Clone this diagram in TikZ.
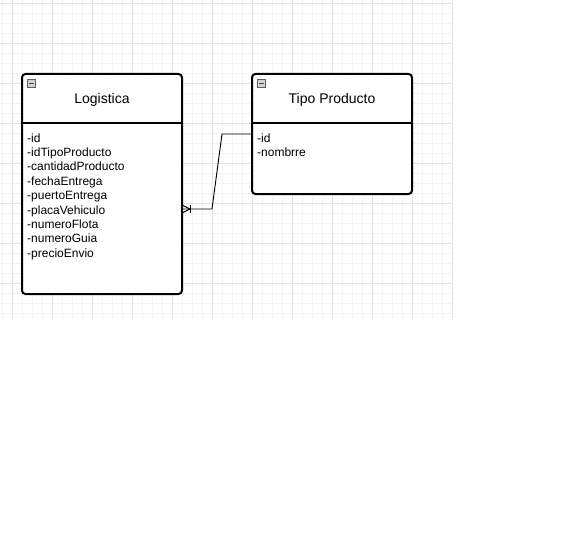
\documentclass[tikz,border=0pt]{standalone}
\usepackage{fontspec}
\setmainfont{Liberation Sans}
\tikzset{
    minor-grid/.style = {draw=gray!9, line width=0.8pt},
    major-grid/.style = {draw=gray!22, line width=0.8pt},
    entity-box/.style = {draw=black, fill=white, line width=2pt, rectangle, rounded corners=3.5pt, anchor=north west, inner sep=0pt, outer sep=0pt},
    entity-line/.style = {draw=black, line width=2pt},
    entity-title/.style = {anchor=base, inner sep=0pt, font=\fontsize{14}{16.8}\selectfont},
    entity-attrs/.style = {anchor=north west, align=left, inner sep=0pt, font=\fontsize{12}{14.4}\selectfont},
    collapse-icon/.style = {draw=gray!75!black, fill=gray!35, line width=0.6pt, minimum size=8pt, inner sep=0pt, anchor=north west},
    relation/.style = {draw=black, line width=0.9pt},
}
\begin{document}
\begin{tikzpicture}[x=1pt, y=-1pt]
\useasboundingbox (0,0) rectangle (562,559);
\fill[white] (0,0) rectangle (562,559);
% grid
\foreach \x in {2.5,12.5,...,452.5} \draw[minor-grid] (\x,0) -- (\x,318);
\foreach \y in {3.5,13.5,...,313.5} \draw[minor-grid] (0,\y) -- (453,\y);
\foreach \x in {12.5,52.5,...,452.5} \draw[major-grid] (\x,0) -- (\x,318);
\foreach \y in {3.5,43.5,...,283.5} \draw[major-grid] (0,\y) -- (453,\y);

% Logistica
\node[entity-box, minimum width=160pt, minimum height=220pt] (logistica) at (22,74) {};
\draw[entity-line] ([yshift=-49.5pt]logistica.north west) -- ([yshift=-49.5pt]logistica.north east);
\node[collapse-icon] (logistica-icon) at ([xshift=5pt,yshift=-5pt]logistica.north west) {};
\draw[black!70, line width=0.8pt] ([xshift=2pt]logistica-icon.west) -- ([xshift=-2pt]logistica-icon.east);
\node[entity-title] (logistica-title) at ([yshift=-29.5pt]logistica.north) {Logistica};
\node[entity-attrs] (logistica-attrs) at ([xshift=5pt,yshift=-59.3pt]logistica.north west) {-id\\-idTipoProducto\\-cantidadProducto\\-fechaEntrega\\-puertoEntrega\\-placaVehiculo\\-numeroFlota\\-numeroGuia\\-precioEnvio};

% Tipo Producto
\node[entity-box, minimum width=160pt, minimum height=120pt] (tipo) at (252,74) {};
\draw[entity-line] ([yshift=-49.5pt]tipo.north west) -- ([yshift=-49.5pt]tipo.north east);
\node[collapse-icon] (tipo-icon) at ([xshift=5pt,yshift=-5pt]tipo.north west) {};
\draw[black!70, line width=0.8pt] ([xshift=2pt]tipo-icon.west) -- ([xshift=-2pt]tipo-icon.east);
\node[entity-title] (tipo-title) at ([yshift=-29.5pt]tipo.north) {Tipo Producto};
\node[entity-attrs] (tipo-attrs) at ([xshift=5pt,yshift=-59.3pt]tipo.north west) {-id\\-nombrre};

% relation
\path (logistica.north east) ++(0,135) coordinate (many-end);
\path (tipo.north west) ++(0,60) coordinate (one-end);
\draw[relation] (many-end) -- ++(30,0) -- ([xshift=-30pt]one-end) -- (one-end);
\draw[relation] ([yshift=4pt]many-end) -- ++(8,4) -- ([yshift=-4pt]many-end);
\draw[relation] ([xshift=8pt,yshift=4pt]many-end) -- ++(0,8);
\end{tikzpicture}
\end{document}
